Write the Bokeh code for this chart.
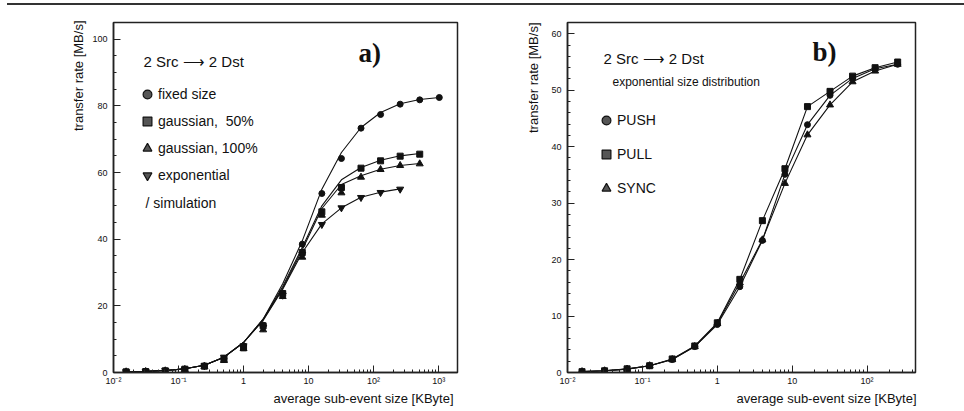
import math
from bokeh.plotting import figure
from bokeh.layouts import row, column
from bokeh.models import (Range1d, FixedTicker, Label, Legend, LegendItem, Div, Title)
from bokeh.embed import file_html
from bokeh.resources import INLINE

# ---------------- data ----------------
# panel a) sub-event sizes [KByte]
size_a = [0.015625, 0.03125, 0.0625, 0.125, 0.25, 0.5, 1, 2, 4, 8, 16, 32, 64, 128, 256, 512, 1024]
fixed_pts = [0.2, 0.3, 0.5, 1.0, 2.0, 4.2, 8.0, 14.2, 23.8, 38.5, 53.7, 64.2, 73.3, 77.4, 80.5, 81.8, 82.5]
g50_pts = [0.2, 0.3, 0.5, 1.0, 1.9, 4.0, 7.4, 14.0, 23.7, 36.0, 48.2, 55.5, 61.3, 63.5, 64.9, 65.5]
g100_pts = [0.2, 0.3, 0.5, 0.9, 1.8, 3.6, 7.2, 12.8, 22.8, 34.6, 47.2, 53.9, 58.6, 60.9, 62.1, 62.6]
exp_pts = [0.2, 0.3, 0.6, 1.0, 2.0, 4.6, 8.0, 13.5, 23.2, 35.5, 44.4, 49.4, 52.5, 54.0, 55.0]
# simulation curves
fixed_sim = [0.2, 0.35, 0.6, 1.1, 2.2, 4.6, 9.0, 16.0, 26.6, 39.5, 55.0, 66.0, 73.5, 78.0, 80.6, 81.9, 82.5]
g50_sim = [0.2, 0.35, 0.6, 1.1, 2.2, 4.6, 9.0, 16.0, 25.8, 37.5, 50.0, 57.8, 61.5, 63.7, 65.0, 65.7]
g100_sim = [0.2, 0.35, 0.6, 1.1, 2.2, 4.6, 9.0, 15.8, 25.3, 36.8, 49.2, 56.4, 59.0, 61.0, 62.1, 62.7]
exp_sim = [0.2, 0.35, 0.6, 1.1, 2.2, 4.6, 9.0, 15.6, 25.0, 36.0, 44.6, 49.4, 52.6, 54.1, 55.1]

# panel b)
size_b = [0.015625, 0.03125, 0.0625, 0.125, 0.25, 0.5, 1, 2, 4, 8, 16, 32, 64, 128, 256]
push = [0.15, 0.3, 0.6, 1.2, 2.3, 4.6, 8.5, 15.2, 23.4, 35.1, 43.9, 49.1, 52.1, 53.8, 54.6]
pull = [0.15, 0.3, 0.65, 1.2, 2.4, 4.7, 8.8, 16.5, 26.9, 36.1, 47.1, 49.8, 52.5, 54.0, 55.0]
sync = [0.15, 0.3, 0.6, 1.2, 2.3, 4.6, 8.7, 15.9, 23.5, 33.5, 42.1, 47.4, 51.5, 53.4, 54.6]

x_major = [0.01, 0.1, 1, 10, 100, 1000]
x_labels = ["10\u207b\u00b2", "10\u207b\u00b9", "1", "10", "10\u00b2", "10\u00b3"]
x_title = "average sub-event size [KByte]"
y_title = "transfer rate [MB/s]"

FONT = "Liberation Sans"
INK = "#111111"
NAN = float("nan")


def style(p, y_major, y_minor, xmax_dec, x_off, y_off, y_stand):
    p.grid.visible = False
    p.outline_line_color = "#222222"
    p.outline_line_width = 1.5
    p.background_fill_color = "white"
    p.border_fill_color = "white"
    minors = []
    for d in range(-2, xmax_dec + 1):
        for m in range(2, 10):
            minors.append(m * 10.0 ** d)
    p.xaxis.ticker = FixedTicker(ticks=x_major, minor_ticks=minors)
    p.xaxis.major_label_overrides = {t: l for t, l in zip(x_major, x_labels)}
    p.yaxis.ticker = FixedTicker(ticks=y_major, minor_ticks=y_minor)
    for ax in (p.xaxis[0], p.yaxis[0]):
        ax.axis_line_color = "#222222"
        ax.axis_line_width = 1.5
        ax.major_tick_in = 7
        ax.major_tick_out = 0
        ax.minor_tick_in = 3
        ax.minor_tick_out = 0
        ax.major_tick_line_color = "#222222"
        ax.minor_tick_line_color = "#222222"
        ax.major_label_text_font = FONT
        ax.major_label_text_font_size = "9px"
        ax.major_label_text_color = INK
    p.yaxis.major_label_standoff = 6
    p.xaxis.major_label_standoff = 3
    tcommon = dict(align="right", text_font=FONT, text_font_size="13px",
                   text_font_style="normal", text_color=INK)
    p.add_layout(Title(text=x_title, offset=x_off, standoff=0, **tcommon), "below")
    p.add_layout(Title(text=y_title, offset=y_off, standoff=y_stand, **tcommon), "left")


def lab(p, text, x, y, size, font=FONT, **kw):
    p.add_layout(Label(x=x, y=y, x_units="screen", y_units="screen", text=text,
                       text_font=font, text_font_size=size, text_color=INK, **kw))


leg_style = dict(size=9, fill_color="#555555", line_color="#111111", line_width=1.2)
leg_common = dict(orientation="vertical", padding=0, margin=0,
                  glyph_width=22, glyph_height=22, label_height=22, label_standoff=0,
                  label_text_font=FONT, label_text_font_size="14px", label_text_color=INK,
                  label_text_baseline="middle",
                  border_line_alpha=0, background_fill_alpha=0)

# ---------------- panel a ----------------
p1 = figure(width=480, height=401, x_axis_type="log",
            x_range=Range1d(0.01, 1950), y_range=Range1d(0, 105),
            output_backend="svg", toolbar_location=None,
            min_border_left=113, min_border_right=23, min_border_top=16, min_border_bottom=35)
style(p1, [0, 20, 40, 60, 80, 100], [v for v in range(0, 106, 5) if v % 20], 3, 4, -2, 8)

for xs, ys in ((size_a, fixed_sim), (size_a[:16], g50_sim), (size_a[:16], g100_sim), (size_a[:15], exp_sim)):
    p1.line(xs, ys, line_color=INK, line_width=1.1)
p1.scatter(size_a, fixed_pts, marker="circle", size=6, color=INK)
p1.scatter(size_a[:16], g50_pts, marker="square", size=6, color=INK)
p1.scatter(size_a[:16], g100_pts, marker="triangle", size=7, color=INK)
p1.scatter(size_a[:15], exp_pts, marker="inverted_triangle", size=7, color=INK)

la = [p1.scatter(x=[NAN], y=[NAN], marker=m, **leg_style)
      for m in ("circle", "square", "triangle", "inverted_triangle")]
leg1 = Legend(items=[LegendItem(label=t, renderers=[r]) for t, r in
                     zip(["fixed size", "gaussian,  50%", "gaussian, 100%", "exponential"], la)],
              location=(23, 186), spacing=5, **leg_common)
p1.add_layout(leg1)

lab(p1, "a)", 245, 320, "27px", font="Liberation Serif", text_font_style="bold", text_baseline="alphabetic")
lab(p1, "2 Src \u27f6 2 Dst", 30, 311, "15px", text_baseline="middle")
lab(p1, "/ simulation", 32, 170, "14px", text_baseline="middle")

# ---------------- panel b ----------------
p2 = figure(width=484, height=401, x_axis_type="log",
            x_range=Range1d(0.01, 443), y_range=Range1d(0, 62),
            output_backend="svg", toolbar_location=None,
            min_border_left=87, min_border_right=49, min_border_top=16, min_border_bottom=35)
style(p2, [0, 10, 20, 30, 40, 50, 60], [v for v in range(0, 63, 2) if v % 10], 2, -1, 0, 15)

for ys in (push, pull, sync):
    p2.line(size_b, ys, line_color=INK, line_width=1.1)
p2.scatter(size_b, push, marker="circle", size=6, color=INK)
p2.scatter(size_b, pull, marker="square", size=6, color=INK)
p2.scatter(size_b, sync, marker="triangle", size=7, color=INK)

lb = [p2.scatter(x=[NAN], y=[NAN], marker=m, **leg_style) for m in ("circle", "square", "triangle")]
leg2 = Legend(items=[LegendItem(label=t, renderers=[r]) for t, r in zip(["PUSH", "PULL", "SYNC"], lb)],
              location=(28, 173), spacing=12, **leg_common)
p2.add_layout(leg2)

lab(p2, "b)", 245, 321, "27px", font="Liberation Serif", text_font_style="bold", text_baseline="alphabetic")
lab(p2, "2 Src \u27f6 2 Dst", 36, 314, "15px", text_baseline="middle")
lab(p2, "exponential size distribution", 45, 291, "12px", text_baseline="middle")

rule = Div(text="", width=957, height=2, margin=(3, 0, 1, 7),
           styles={"background-color": "#333333"})

layout = column(rule, row(p1, p2))
open("out.html", "w").write(file_html(layout, INLINE))
